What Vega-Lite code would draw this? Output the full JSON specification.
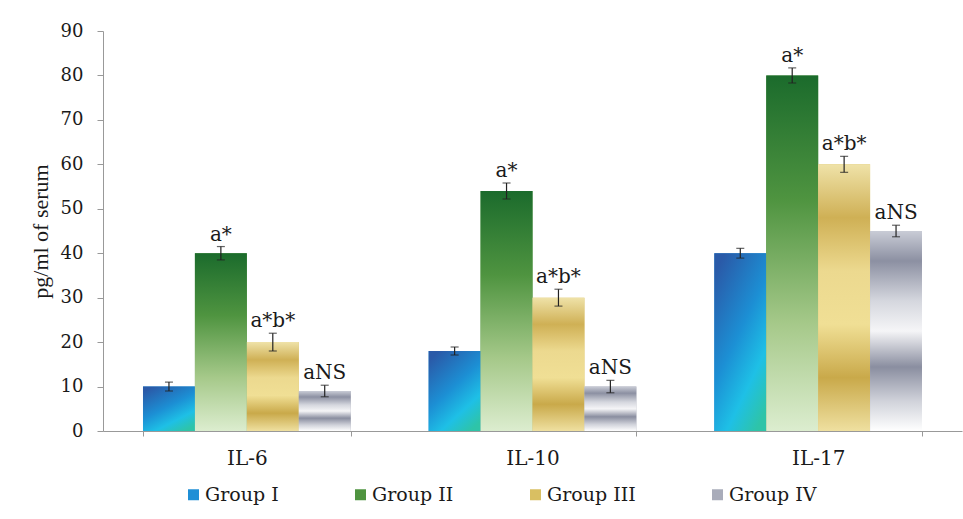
{
  "$schema": "https://vega.github.io/schema/vega-lite/v6.json",
  "width": 859,
  "height": 400,
  "autosize": "none",
  "padding": {"left": 103, "top": 31, "right": 1, "bottom": 88},
  "background": "white",
  "config": {
    "font": "DejaVu Serif",
    "view": {"stroke": null},
    "axis": {"labelColor": "#1a1a1a", "domainColor": "#999", "tickColor": "#999", "grid": false, "labelFont": "DejaVu Serif"},
    "legend": {"labelFont": "DejaVu Serif"}
  },
  "data": {
    "values": [
      {"cytokine": "IL-6", "group": "Group I", "value": 10, "lo": 9, "hi": 11, "label": ""},
      {"cytokine": "IL-6", "group": "Group II", "value": 40, "lo": 38.5, "hi": 41.5, "label": "a*"},
      {"cytokine": "IL-6", "group": "Group III", "value": 20, "lo": 18, "hi": 22, "label": "a*b*"},
      {"cytokine": "IL-6", "group": "Group IV", "value": 9, "lo": 7.7, "hi": 10.3, "label": "aNS"},
      {"cytokine": "IL-10", "group": "Group I", "value": 18, "lo": 17.1, "hi": 18.9, "label": ""},
      {"cytokine": "IL-10", "group": "Group II", "value": 54, "lo": 52.2, "hi": 55.8, "label": "a*"},
      {"cytokine": "IL-10", "group": "Group III", "value": 30, "lo": 28.1, "hi": 31.9, "label": "a*b*"},
      {"cytokine": "IL-10", "group": "Group IV", "value": 10, "lo": 8.6, "hi": 11.4, "label": "aNS"},
      {"cytokine": "IL-17", "group": "Group I", "value": 40, "lo": 38.9, "hi": 41.1, "label": ""},
      {"cytokine": "IL-17", "group": "Group II", "value": 80, "lo": 78.3, "hi": 81.7, "label": "a*"},
      {"cytokine": "IL-17", "group": "Group III", "value": 60, "lo": 58.2, "hi": 61.8, "label": "a*b*"},
      {"cytokine": "IL-17", "group": "Group IV", "value": 45, "lo": 43.7, "hi": 46.3, "label": "aNS"}
    ]
  },
  "encoding": {
    "x": {
      "field": "cytokine", "type": "nominal", "sort": ["IL-6", "IL-10", "IL-17"], "title": null,
      "scale": {"paddingInner": 0.273, "paddingOuter": 0.14},
      "axis": {"labelAngle": 0, "tickBand": "extent", "tickSize": 5, "labelPadding": 12, "labelFontSize": 20}
    },
    "xOffset": {"field": "group", "type": "nominal", "sort": ["Group I", "Group II", "Group III", "Group IV"], "scale": {"paddingInner": 0, "paddingOuter": 0}},
    "y": {"field": "value", "type": "quantitative", "title": "pg/ml  of serum", "scale": {"domain": [0, 90]}}
  },
  "layer": [
    {
      "mark": {"type": "bar"},
      "encoding": {
        "y": {
          "field": "value", "type": "quantitative", "title": "pg/ml  of serum",
          "scale": {"domain": [0, 90]},
          "axis": {"values": [0, 10, 20, 30, 40, 50, 60, 70, 80, 90], "tickSize": 6, "labelPadding": 14, "labelFontSize": 18, "titleFont": "Liberation Serif", "titleFontSize": 22, "titleFontWeight": "normal", "titleColor": "#1a1a1a", "titlePadding": 8}
        },
        "fill": {
          "field": "group", "type": "nominal", "title": null,
          "scale": {
            "domain": ["Group I", "Group II", "Group III", "Group IV"],
            "range": ["#1f8fd6", "#4f9440", "#d9bf62", "#a9acba"]
          },
          "legend": {"orient": "none", "legendX": 81, "legendY": 454, "direction": "horizontal", "columns": 4, "symbolType": "square", "symbolSize": 121, "symbolStrokeWidth": 0, "labelFontSize": 19, "labelColor": "#1a1a1a", "labelOffset": 2, "columnPadding": 72, "padding": 0}
        }
      }
    },
    {
      "transform": [{"filter": {"field": "group", "equal": "Group I"}}],
      "mark": {"type": "bar", "color": {"gradient": "linear", "x1": 0.2, "y1": 0, "x2": 0.8, "y2": 1, "stops": [{"offset": 0, "color": "#2a5aa8"}, {"offset": 0.45, "color": "#1c8fd4"}, {"offset": 0.75, "color": "#1ec0e6"}, {"offset": 1, "color": "#2ec4a8"}]}}
    },
    {
      "transform": [{"filter": {"field": "group", "equal": "Group II"}}],
      "mark": {"type": "bar", "color": {"gradient": "linear", "x1": 0, "y1": 0, "x2": 0, "y2": 1, "stops": [{"offset": 0, "color": "#1b6b2c"}, {"offset": 0.35, "color": "#4f9440"}, {"offset": 0.7, "color": "#a6c98a"}, {"offset": 1, "color": "#dcedcf"}]}}
    },
    {
      "transform": [{"filter": {"field": "group", "equal": "Group III"}}],
      "mark": {"type": "bar", "color": {"gradient": "linear", "x1": 0, "y1": 0, "x2": 0, "y2": 1, "stops": [{"offset": 0, "color": "#efe2a8"}, {"offset": 0.2, "color": "#cfb055"}, {"offset": 0.4, "color": "#ecd98f"}, {"offset": 0.6, "color": "#f0df95"}, {"offset": 0.8, "color": "#c9a94a"}, {"offset": 1, "color": "#efe0a0"}]}}
    },
    {
      "transform": [{"filter": {"field": "group", "equal": "Group IV"}}],
      "mark": {"type": "bar", "color": {"gradient": "linear", "x1": 0, "y1": 0, "x2": 0, "y2": 1, "stops": [{"offset": 0, "color": "#c9ccd6"}, {"offset": 0.15, "color": "#8c90a2"}, {"offset": 0.35, "color": "#d5d7de"}, {"offset": 0.5, "color": "#f5f5f7"}, {"offset": 0.68, "color": "#8a8ea0"}, {"offset": 0.85, "color": "#d0d2da"}, {"offset": 1, "color": "#ffffff"}]}}
    },
    {
      "mark": {"type": "rule", "color": "#222", "strokeWidth": 1.2},
      "encoding": {
        "y": {"field": "lo", "type": "quantitative", "title": "pg/ml  of serum", "scale": {"domain": [0, 90]}},
        "y2": {"field": "hi"}
      }
    },
    {
      "mark": {"type": "tick", "color": "#222", "size": 8, "thickness": 1.2, "orient": "horizontal"},
      "encoding": {
        "y": {"field": "lo", "type": "quantitative", "title": "pg/ml  of serum", "scale": {"domain": [0, 90]}}
      }
    },
    {
      "mark": {"type": "tick", "color": "#222", "size": 8, "thickness": 1.2, "orient": "horizontal"},
      "encoding": {
        "y": {"field": "hi", "type": "quantitative", "title": "pg/ml  of serum", "scale": {"domain": [0, 90]}}
      }
    },
    {
      "mark": {"type": "text", "baseline": "bottom", "dy": -2, "fontSize": 20, "color": "#1a1a1a", "font": "DejaVu Serif"},
      "encoding": {
        "y": {"field": "hi", "type": "quantitative", "title": "pg/ml  of serum", "scale": {"domain": [0, 90]}},
        "text": {"field": "label"}
      }
    }
  ]
}
